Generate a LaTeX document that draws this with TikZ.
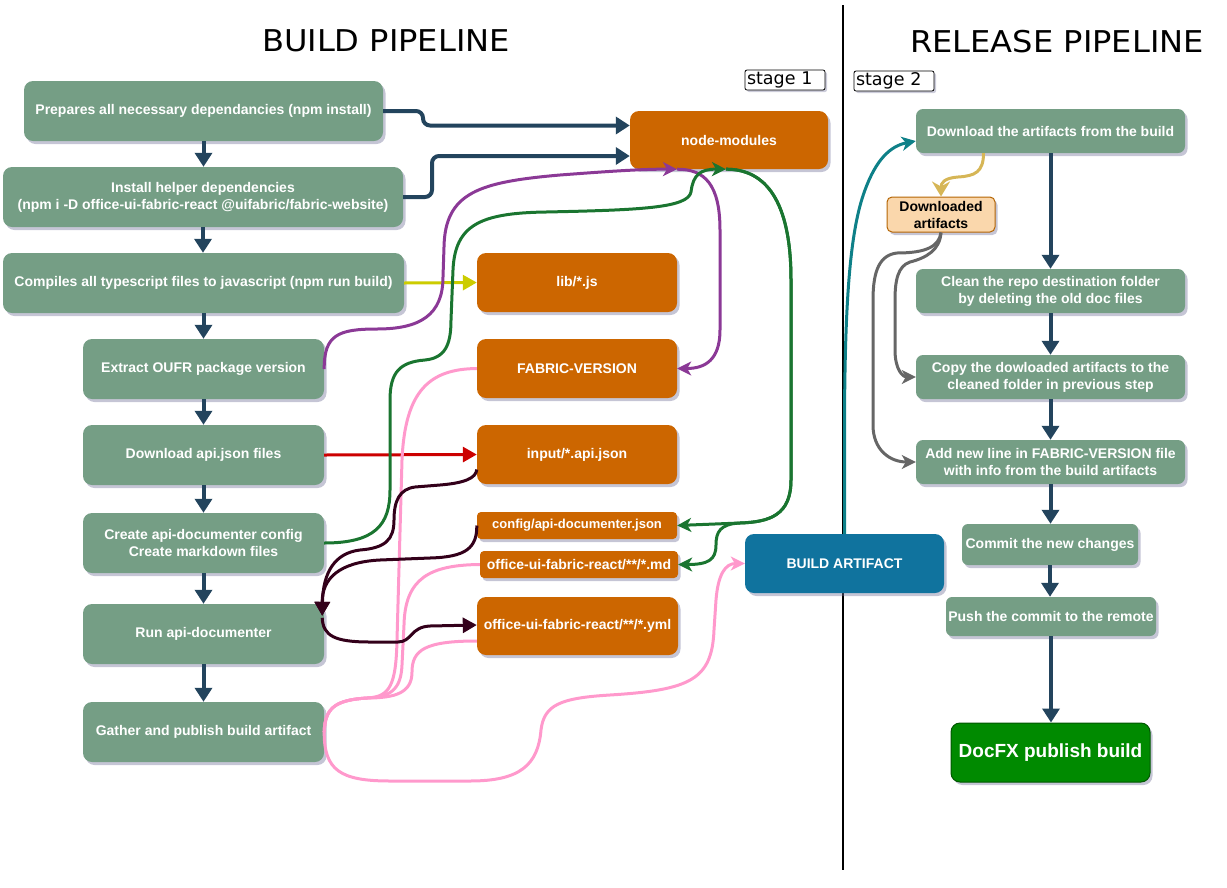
\documentclass[tikz,border=0pt]{standalone}
\usepackage{fontspec}
\setmainfont{Liberation Sans}
\newfontfamily\titlefont[FakeStretch=1.07]{DejaVu Sans}
\newfontfamily\stagefont{DejaVu Sans}
\usetikzlibrary{arrows.meta,shadows}
\definecolor{gfill}{RGB}{117,158,133}
\definecolor{ofill}{HTML}{CC6600}
\definecolor{bfill}{HTML}{10739E}
\definecolor{navyc}{HTML}{23445D}
\definecolor{purpc}{RGB}{139,57,150}
\definecolor{grnc}{RGB}{26,117,48}
\definecolor{pnkc}{HTML}{FF99CC}
\definecolor{marc}{HTML}{33001A}
\definecolor{yelc}{HTML}{CCCC00}
\definecolor{redc}{HTML}{CC0000}
\definecolor{tealc}{HTML}{0E8088}
\definecolor{goldc}{HTML}{D6B656}
\definecolor{grayc}{HTML}{666666}
\definecolor{dafill}{HTML}{FAD7AC}
\definecolor{dadraw}{HTML}{B46504}
\definecolor{dxfill}{HTML}{008A00}
\definecolor{dxdraw}{HTML}{005700}
\definecolor{shad}{RGB}{110,110,150}
\begin{document}
\begin{tikzpicture}[x=1pt,y=-1pt,
  shd/.style={drop shadow={shadow xshift=2.5pt,shadow yshift=-3pt,fill=shad,opacity=0.4}},
  box/.style={rectangle,rounded corners=9pt,text=white,font=\bfseries\fontsize{14}{17}\selectfont,align=center,inner sep=0pt,shd},
  gbox/.style={box,fill=gfill},
  obox/.style={box,fill=ofill},
  sz/.style 2 args={minimum width=#1pt,minimum height=#2pt},
  stagebox/.style={draw=black,line width=0.8pt,fill=white,rounded corners=2pt,font=\stagefont\fontsize{17.5}{20}\selectfont,text width=76pt,align=left,inner xsep=2pt,inner ysep=0pt,minimum height=20pt,drop shadow={shadow xshift=2pt,shadow yshift=-2pt,fill=shad,opacity=0.35}},
  ttl/.style={font=\titlefont\fontsize{30}{36}\selectfont,inner sep=0pt},
  navyarr/.style={draw=navyc,line width=4pt,-{Triangle[length=14pt,width=17pt]}},
  blk/.style={-{Triangle[length=14pt,width=15pt]}},
  cls/.style={-{Stealth[length=14pt,width=14pt,inset=4pt]}},
  ln/.style={line width=3pt,line join=round},
  purpl/.style={ln,draw=purpc,cls},
  grnl/.style={ln,draw=grnc,cls},
  pnkl/.style={ln,draw=pnkc},
  marl/.style={ln,draw=marc,blk},
  yell/.style={ln,draw=yelc,blk},
  redl/.style={ln,draw=redc,blk},
  teall/.style={ln,draw=tealc,cls},
  goldl/.style={ln,draw=goldc,-{Stealth[length=15pt,width=18pt,inset=5pt]}},
  grayl/.style={ln,draw=grayc,cls}
]
\useasboundingbox (0,0) rectangle (1227,887);

% separator
\coordinate (sepTop) at (843,5);
\coordinate (sepBot) at (843,870);
\draw[line width=2pt] (sepTop) -- (sepBot);

% titles
\node[ttl] (t1) at (386,41) {BUILD PIPELINE};
\node[ttl] (t2) at (1057,42) {RELEASE PIPELINE};

% stage labels
\node[stagebox] (s1) at (785,80) {stage 1};
\node[stagebox] (s2) at (894,81) {stage 2};

% build pipeline steps
\node[gbox,sz={359}{60}] (b1) at (203.5,111) {Prepares all necessary dependancies (npm install)};
\node[gbox,sz={400}{60}] (b2) at (203,197) {Install helper dependencies\\(npm i -D office-ui-fabric-react @uifabric/fabric-website)};
\node[gbox,sz={401}{60}] (b3) at (203.5,283) {Compiles all typescript files to javascript (npm run build)};
\node[gbox,sz={241}{60}] (b4) at (203.5,369) {Extract OUFR package version};
\node[gbox,sz={241}{60}] (b5) at (203.5,455) {Download api.json files};
\node[gbox,sz={241}{60}] (b6) at (203.5,543) {Create api-documenter config\\Create markdown files};
\node[gbox,sz={241}{60}] (b7) at (203.5,634) {Run api-documenter};
\node[gbox,sz={241}{60}] (b8) at (203.5,732) {Gather and publish build artifact};

% artefacts
\node[obox,sz={198}{58}] (nm) at (729,140) {node-modules};
\node[obox,sz={200}{59}] (lib) at (577,282.5) {lib/*.js};
\node[obox,sz={200}{59}] (fv) at (577,368.5) {FABRIC-VERSION};
\node[obox,sz={200}{59}] (inp) at (577,454.5) {input/*.api.json};
\node[obox,sz={200}{27},rounded corners=4pt,font=\bfseries\fontsize{13}{16}\selectfont] (cfg) at (577,525.5) {config/api-documenter.json};
\node[obox,sz={198}{27},rounded corners=4pt] (md) at (579,564.5) {office-ui-fabric-react/**/*.md};
\node[obox,sz={201}{58}] (yml) at (577.5,626) {office-ui-fabric-react/**/*.yml};
\node[box,fill=bfill,sz={199}{59}] (ba) at (844.5,563.5) {BUILD ARTIFACT};

% release pipeline steps
\node[gbox,sz={269}{44},rounded corners=7pt] (r1) at (1050.5,131) {Download the artifacts from the build};
\node[box,fill=dafill,draw=dadraw,line width=1pt,text=black,sz={108}{35},rounded corners=5pt] (da) at (941,214.5) {Downloaded\\artifacts};
\node[gbox,sz={269}{44},rounded corners=7pt] (r2) at (1050.5,291) {Clean the repo destination folder\\by deleting the old doc files};
\node[gbox,sz={269}{44},rounded corners=7pt] (r3) at (1050.5,377) {Copy the dowloaded artifacts to the\\cleaned folder in previous step};
\node[gbox,sz={269}{44},rounded corners=7pt] (r4) at (1050.5,462) {Add new line in FABRIC-VERSION file\\with info from the build artifacts};
\node[gbox,sz={176}{41},rounded corners=6pt] (r5) at (1050,544.5) {Commit the new changes};
\node[gbox,sz={210}{39},rounded corners=6pt] (r6) at (1051,616.5) {Push the commit to the remote};
\node[box,fill=dxfill,draw=dxdraw,line width=1pt,sz={199}{59},font=\bfseries\fontsize{19}{22}\selectfont] (dx) at (1050.5,752.5) {DocFX publish build};

% navy flow arrows
\foreach \a/\b in {b1/b2,b2/b3,b3/b4,b4/b5,b5/b6,b6/b7,b7/b8,r1/r2,r2/r3,r3/r4,r4/r5,r5/r6,r6/dx}
  \draw[navyarr] (\a.south) -- (\a.south |- \b.north);
\draw[navyarr,rounded corners=7pt] (b1.east) -- (423,111) |- ([yshift=14.5pt]nm.west);
\draw[navyarr,rounded corners=7pt] (b2.east) -- (432,197) |- ([yshift=-16pt]nm.west);

% straight coloured arrows
\draw[yell] (b3.east) -- (lib.west);
\draw[redl] (b5.east) -- (inp.west);

% purple
\draw[purpl] (b4.east) .. controls (324,335) and (338,329) .. (377,329)
  .. controls (420,329) and (443,315) .. (443,277) -- (444,247)
  .. controls (445,192) and (480,182) .. (560,175)
  .. controls (600,172) and (640,169) .. ([xshift=-52pt]nm.south);
\draw[purpl] ([xshift=-52pt]nm.south) .. controls (705,169) and (720,185) .. (720,230)
  -- (720,330) .. controls (720,360) and (705,368.5) .. (fv.east);

% green
\draw[grnl] (b6.east) .. controls (375,543) and (390,525) .. (390,490) -- (390,400)
  .. controls (390,372) and (400,362) .. (425,360)
  .. controls (445,358) and (451,345) .. (451,320) -- (453,270)
  .. controls (455,225) and (480,213) .. (546,212)
  .. controls (640,210) and (688,208) .. (691,192)
  .. controls (693,175) and (700,169) .. ([xshift=-3pt]nm.south);
\draw[grnl] ([xshift=-3pt]nm.south) .. controls (765,169) and (791,200) .. (791,280)
  -- (791,480) .. controls (791,515) and (770,522) .. (740,523) -- (cfg.east);
\draw[grnl] ([xshift=-3pt]nm.south) .. controls (765,169) and (791,200) .. (791,280)
  -- (791,480) .. controls (791,515) and (770,522) .. (740,523)
  .. controls (720,524) and (716,532) .. (716,545)
  .. controls (716,560) and (708,564.5) .. (md.east);

% pink
\draw[pnkl] (fv.west) .. controls (430,369) and (405,390) .. (402,460) -- (397,640)
  .. controls (396,685) and (390,697) .. (367,698)
  .. controls (335,700) and (325,708) .. (b8.east);
\draw[pnkl] (md.west) .. controls (430,565) and (405,578) .. (404,625) -- (402,665)
  .. controls (401,690) and (390,697) .. (367,698)
  .. controls (335,700) and (325,708) .. (b8.east);
\draw[pnkl] ([yshift=-15pt]yml.west) .. controls (425,641) and (412,650) .. (412,672)
  .. controls (412,693) and (395,698) .. (367,698)
  .. controls (335,700) and (325,708) .. (b8.east);
\draw[pnkl,cls] (b8.east) .. controls (324,770) and (340,781) .. (390,781) -- (470,781)
  .. controls (520,781) and (538,765) .. (541,730)
  .. controls (544,705) and (560,698) .. (610,695)
  .. controls (690,690) and (712,680) .. (714,630) -- (716,600)
  .. controls (718,575) and (725,563.5) .. (ba.west);

% maroon
\draw[marl] ([yshift=-15pt]inp.west) .. controls (476,478) and (465,483) .. (440,485) -- (415,487)
  .. controls (400,489) and (394,500) .. (394,520)
  .. controls (394,540) and (385,548) .. (360,550)
  .. controls (335,553) and (323,572) .. ([xshift=-2pt,yshift=-12pt]b7.north east);
\draw[marl] (cfg.west) .. controls (477,548) and (466,557) .. (430,558) -- (380,560)
  .. controls (340,562) and (322,578) .. ([xshift=-2pt,yshift=-12pt]b7.north east);
\draw[marl] ([xshift=-2pt,yshift=-14pt]b7.north east) .. controls (323,636) and (335,642) .. (370,642)
  -- (398,642) .. controls (412,642) and (410,627) .. (430,626) -- ([yshift=1pt]yml.west);

% release side connectors
\draw[teall] (ba.north) -- (844.5,420) .. controls (845,300) and (850,230) .. (865,190)
  .. controls (876,160) and (890,146) .. ([yshift=-10pt]r1.west);
\draw[goldl] ([xshift=-67pt]r1.south) .. controls (983.5,172) and (975,176) .. (958,177)
  .. controls (944,178) and (941,183) .. (da.north);
\draw[grayl] (da.south) .. controls (940,250) and (926,258) .. (910,262)
  .. controls (898,266) and (895,280) .. (895,300) -- (895,350)
  .. controls (895,370) and (903,377) .. (r3.west);
\draw[grayl] (da.south) .. controls (939,247) and (925,253) .. (897,253)
  .. controls (880,255) and (873,270) .. (873,300) -- (873,425)
  .. controls (873,450) and (890,462) .. (r4.west);
\end{tikzpicture}
\end{document}
